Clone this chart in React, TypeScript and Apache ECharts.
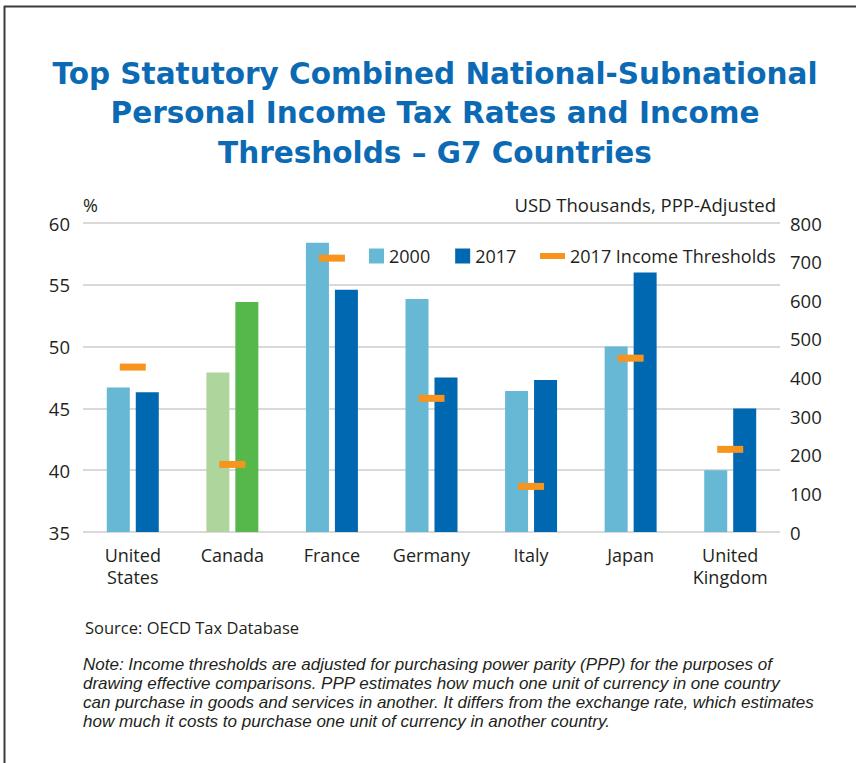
import React, { useEffect, useRef } from "react";
import * as echarts from "echarts";

const categories = ["United\nStates", "Canada", "France", "Germany", "Italy", "Japan", "United\nKingdom"];
const rates2000 = [46.7, 47.9, 58.4, 53.85, 46.4, 50.0, 40.0];
const rates2017 = [46.3, 53.6, 54.6, 47.5, 47.3, 56.0, 45.0];
const thresholds2017 = [427, 175, 709, 346, 118, 450, 214];
const highlightIndex = 1; // Canada
const leftTicks = { min: 35, max: 60, interval: 5 };
const rightTicks = { min: 0, max: 800, interval: 100 };

const FONT = "'Open Sans', sans-serif";
const TXT = "#231f20";

export default function App() {
  const ref = useRef<HTMLDivElement>(null);
  useEffect(() => {
    if (!ref.current) return;
    const chart = echarts.init(ref.current, null, { renderer: "svg" });
    const c2000 = "#66b8d4";
    const c2017 = "#0067b1";
    const g2000 = "#aed69c";
    const g2017 = "#56b84b";
    chart.setOption({
      animation: false,
      textStyle: { fontFamily: FONT, color: TXT },
      title: {
        text: "Top Statutory Combined National-Subnational\nPersonal Income Tax Rates and Income\nThresholds – G7 Countries",
        left: 430,
        top: 49,
        textAlign: "center",
        textStyle: {
          fontFamily: "'DejaVu Sans', sans-serif",
          fontSize: 29.5,
          fontWeight: "bold",
          color: "#0b6ab3",
          lineHeight: 39.5,
        },
      },
      legend: [
        {
          data: ["2000", "2017"],
          left: 364,
          top: 242,
          itemWidth: 15,
          itemHeight: 15,
          itemGap: 25,
          icon: "rect",
          textStyle: { fontFamily: FONT, fontSize: 18, color: TXT },
        },
        {
          data: [{ name: "2017 Income Thresholds", icon: "rect" }],
          left: 535,
          top: 242,
          itemWidth: 25,
          itemHeight: 6,
          textStyle: { fontFamily: FONT, fontSize: 18, color: TXT },
        },
      ],
      grid: { left: 83, right: 76, top: 223, bottom: 231, containLabel: false },
      xAxis: {
        type: "category",
        data: categories,
        axisLine: { show: false },
        axisTick: { show: false },
        axisLabel: { fontFamily: FONT, fontSize: 18, color: TXT, margin: 12, lineHeight: 22, interval: 0 },
      },
      yAxis: [
        {
          type: "value",
          ...leftTicks,
          name: "%",
          nameLocation: "end",
          nameGap: 9,
          nameTextStyle: { fontFamily: FONT, fontSize: 18, color: TXT, align: "left" },
          axisLabel: { fontFamily: FONT, fontSize: 18.5, color: TXT, margin: 13 },
          splitLine: { lineStyle: { color: "#cccccc", width: 1.5 } },
          axisLine: { show: false },
          axisTick: { show: false },
        },
        {
          type: "value",
          ...rightTicks,
          name: "USD Thousands, PPP-Adjusted",
          nameLocation: "end",
          nameGap: 9,
          nameTextStyle: { fontFamily: FONT, fontSize: 18.5, color: TXT, align: "right", padding: [0, 4, 0, 0] },
          axisLabel: { fontFamily: FONT, fontSize: 18.5, color: TXT, margin: 10 },
          splitLine: { show: false },
          axisLine: { show: false },
          axisTick: { show: false },
        },
      ],
      series: [
        {
          name: "2000",
          type: "bar",
          barWidth: 23,
          barGap: "26%",
          itemStyle: { color: c2000 },
          data: rates2000.map((v, i) => (i === highlightIndex ? { value: v, itemStyle: { color: g2000 } } : v)),
        },
        {
          name: "2017",
          type: "bar",
          barWidth: 23,
          barGap: "26%",
          itemStyle: { color: c2017 },
          data: rates2017.map((v, i) => (i === highlightIndex ? { value: v, itemStyle: { color: g2017 } } : v)),
        },
        {
          name: "2017 Income Thresholds",
          type: "scatter",
          yAxisIndex: 1,
          symbol: "rect",
          symbolSize: [26, 7],
          itemStyle: { color: "#f7941d", opacity: 1 },
          z: 5,
          data: thresholds2017,
        },
      ],
      graphic: [
        { type: "line", shape: { x1: 4, y1: 6.5, x2: 856, y2: 6.5 }, style: { stroke: "#3a3a3a", lineWidth: 2 } },
        { type: "line", shape: { x1: 4.5, y1: 6, x2: 4.5, y2: 763 }, style: { stroke: "#3a3a3a", lineWidth: 2 } },
        {
          type: "text",
          left: 85,
          top: 619,
          style: { text: "Source: OECD Tax Database", font: `16.5px ${FONT}`, fill: TXT },
        },
        {
          type: "text",
          left: 83,
          top: 655,
          style: {
            text:
              "Note: Income thresholds are adjusted for purchasing power parity (PPP) for the purposes of\ndrawing effective comparisons. PPP estimates how much one unit of currency in one country\ncan purchase in goods and services in another. It differs from the exchange rate, which estimates\nhow much it costs to purchase one unit of currency in another country.",
            font: `italic 17px 'Liberation Sans', sans-serif`,
            lineHeight: 19,
            fill: TXT,
          },
        },
      ],
    });
    return () => chart.dispose();
  }, []);
  return (
    <div
      ref={ref}
      style={{ position: "fixed", left: 0, top: 0, width: 856, height: 763, background: "#fff" }}
    />
  );
}
